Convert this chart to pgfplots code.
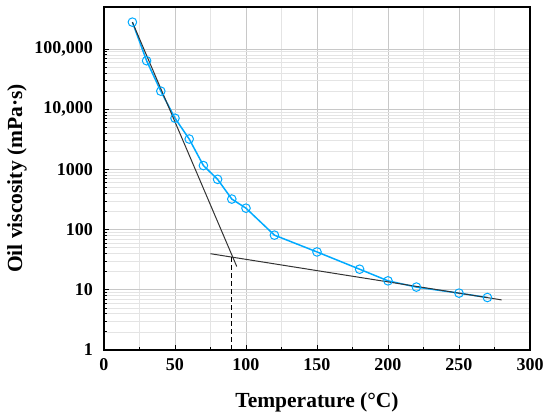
\documentclass[border=0pt]{standalone}
\usepackage{pgfplots}
\pgfplotsset{compat=1.18}
\usepackage{fontspec}
\setmainfont{Liberation Serif}
\definecolor{cy}{RGB}{0,170,255}
\definecolor{gmaj}{RGB}{200,200,200}
\definecolor{gmin}{RGB}{228,228,228}
\begin{document}
\begin{tikzpicture}
\begin{axis}[
  at={(0,0)}, anchor=south west,
  scale only axis, width=426pt, height=343pt,
  xmin=0, xmax=300, ymode=log, ymin=1, ymax=5e5,
  xtick={0,50,100,150,200,250,300},
  xticklabels={0,50,100,150,200,250,300},
  minor x tick num=1,
  ytick={1,10,100,1000,10000,100000},
  yticklabels={1,10,100,1000,{10,000},{100,000}},
  tick align=inside, xtick pos=bottom, ytick pos=left,
  major tick length=5pt, minor tick length=3pt,
  tick style={black, line width=0.8pt},
  grid=both,
  major grid style={gmaj, line width=0.8pt},
  minor grid style={gmin, line width=0.7pt},
  axis line style={line width=1.6pt},
  ticklabel style={font=\fontsize{18}{20}\selectfont\bfseries, inner sep=0pt},
  xticklabel style={anchor=center, yshift=-15pt},
  yticklabel style={anchor=east, xshift=-11pt},
  xlabel={Temperature (°C)},
  ylabel={Oil viscosity (mPa·s)},
  label style={font=\fontsize{21.5}{24}\selectfont\bfseries},
  xlabel style={at={(axis description cs:0.5,-0.1516)}, anchor=center},
  ylabel style={at={(axis description cs:-0.2042,0.5)}, anchor=center, rotate=0},
]
\addplot[cy, line width=1.5pt, mark=o, mark size=4.3pt,
  mark options={fill=white, line width=1pt}] coordinates {
  (20,280000) (30,64000) (40,20000) (50,7100) (60,3200) (70,1160)
  (80,685) (90,322) (100,227) (120,81) (150,42.6) (180,22)
  (200,14.1) (220,11.1) (250,8.8) (270,7.45)
};
\addplot[black!80, line width=1pt] coordinates {(20,280000) (93.5,24.4)};
\addplot[black!80, line width=1pt] coordinates {(75,39.8) (280,6.8)};
\addplot[black, line width=1.2pt, dash pattern=on 5pt off 3pt] coordinates {(90,1) (90,35)};
\end{axis}
\path[use as bounding box] (-104pt,-70pt) rectangle (446pt,350pt);
\end{tikzpicture}
\end{document}
